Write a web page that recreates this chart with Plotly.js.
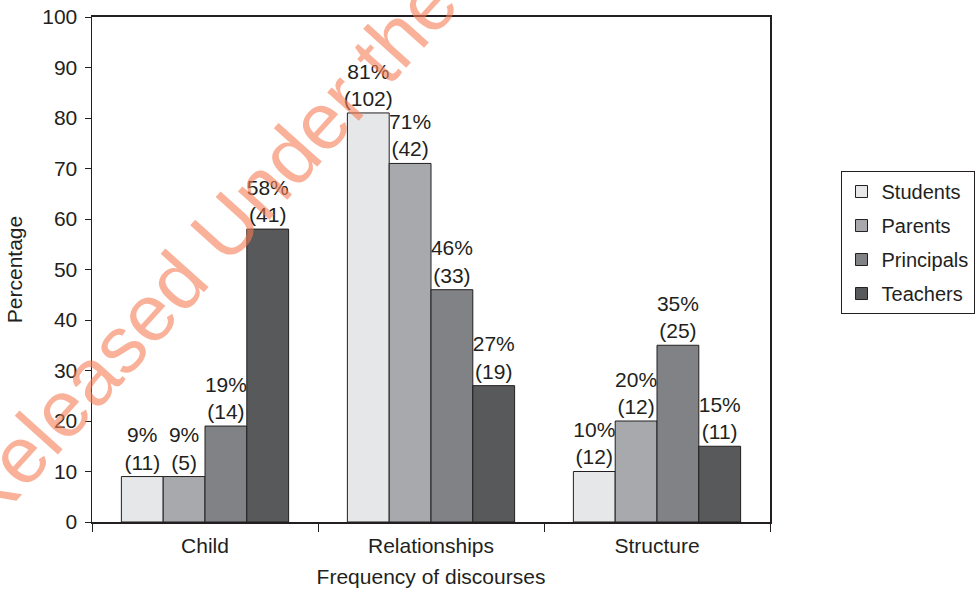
<!DOCTYPE html>
<html>
<head>
<meta charset="utf-8">
<script src="https://cdn.plot.ly/plotly-3.0.1.min.js"></script>
<style>html,body{margin:0;padding:0;background:#fff}#chart{width:979px;height:592px}</style>
</head>
<body>
<div id="chart"></div>
<script>
const categories = ["Child", "Relationships", "Structure"];
const seriesNames = ["Students", "Parents", "Principals", "Teachers"];
const students = [9, 81, 10];
const parents = [9, 71, 20];
const principals = [19, 46, 35];
const teachers = [58, 27, 15];
const studentsN = [11, 102, 12];
const parentsN = [5, 42, 12];
const principalsN = [14, 33, 25];
const teachersN = [41, 19, 11];
const colors = ["#e6e7e8", "#a7a9ac", "#808285", "#58595b"];
const yTicks = [0, 10, 20, 30, 40, 50, 60, 70, 80, 90, 100];

const ink = "#231f20";
const font = "Liberation Sans, Arial, Helvetica, sans-serif";
const fs = 21;
const values = [students, parents, principals, teachers];
const counts = [studentsN, parentsN, principalsN, teachersN];

const traces = seriesNames.map((name, k) => ({
  type: "bar",
  name: name,
  x: categories,
  y: values[k],
  text: values[k].map((v, i) => v + "%<br>(" + counts[k][i] + ")"),
  textposition: "outside",
  constraintext: "none",
  cliponaxis: false,
  textfont: {family: font, size: fs, color: ink},
  marker: {color: colors[k], line: {color: ink, width: 1}},
  legendgroup: "g" + k,
  hoverinfo: "none"
}));

const layout = {
  width: 979, height: 592,
  margin: {l: 92, r: 209, t: 17, b: 70, autoexpand: false},
  paper_bgcolor: "#fff", plot_bgcolor: "#fff",
  font: {family: font, size: fs, color: ink},
  barmode: "group",
  bargap: 0.26,
  bargroupgap: 0,
  showlegend: true,
  legend: {
    x: 1.104, xanchor: "left", y: 0.695, yanchor: "top",
    bordercolor: ink, borderwidth: 1,
    font: {family: font, size: 20, color: ink},
    traceorder: "grouped", tracegroupgap: 5
  },
  xaxis: {
    type: "category",
    showline: true, linecolor: ink, linewidth: 2, mirror: true,
    ticks: "outside", tickson: "boundaries", ticklen: 8, tickcolor: ink, tickwidth: 1,
    ticklabelstandoff: 4,
    tickfont: {family: font, size: fs, color: ink},
    showgrid: false, zeroline: false,
    title: {text: "Frequency of discourses", font: {family: font, size: fs, color: ink}, standoff: 13}
  },
  yaxis: {
    range: [0, 100],
    tickvals: yTicks, ticktext: yTicks.map(String),
    showline: true, linecolor: ink, linewidth: 1.5, mirror: true,
    ticks: "outside", ticklen: 6, tickcolor: ink, tickwidth: 1,
    ticklabelstandoff: 3,
    tickfont: {family: font, size: fs, color: ink},
    showgrid: false, zeroline: false,
    title: {text: "Percentage", font: {family: font, size: fs, color: ink}, standoff: 14}
  },
  annotations: [{
    text: "Released Under the",
    xref: "paper", yref: "paper",
    x: 0.165, y: 0.535, xanchor: "center", yanchor: "middle",
    textangle: -48, showarrow: false,
    font: {family: font, size: 80, color: "rgba(245,125,85,0.6)"}
  }]
};

Plotly.newPlot("chart", traces, layout, {displayModeBar: false, staticPlot: true});
</script>
</body>
</html>
